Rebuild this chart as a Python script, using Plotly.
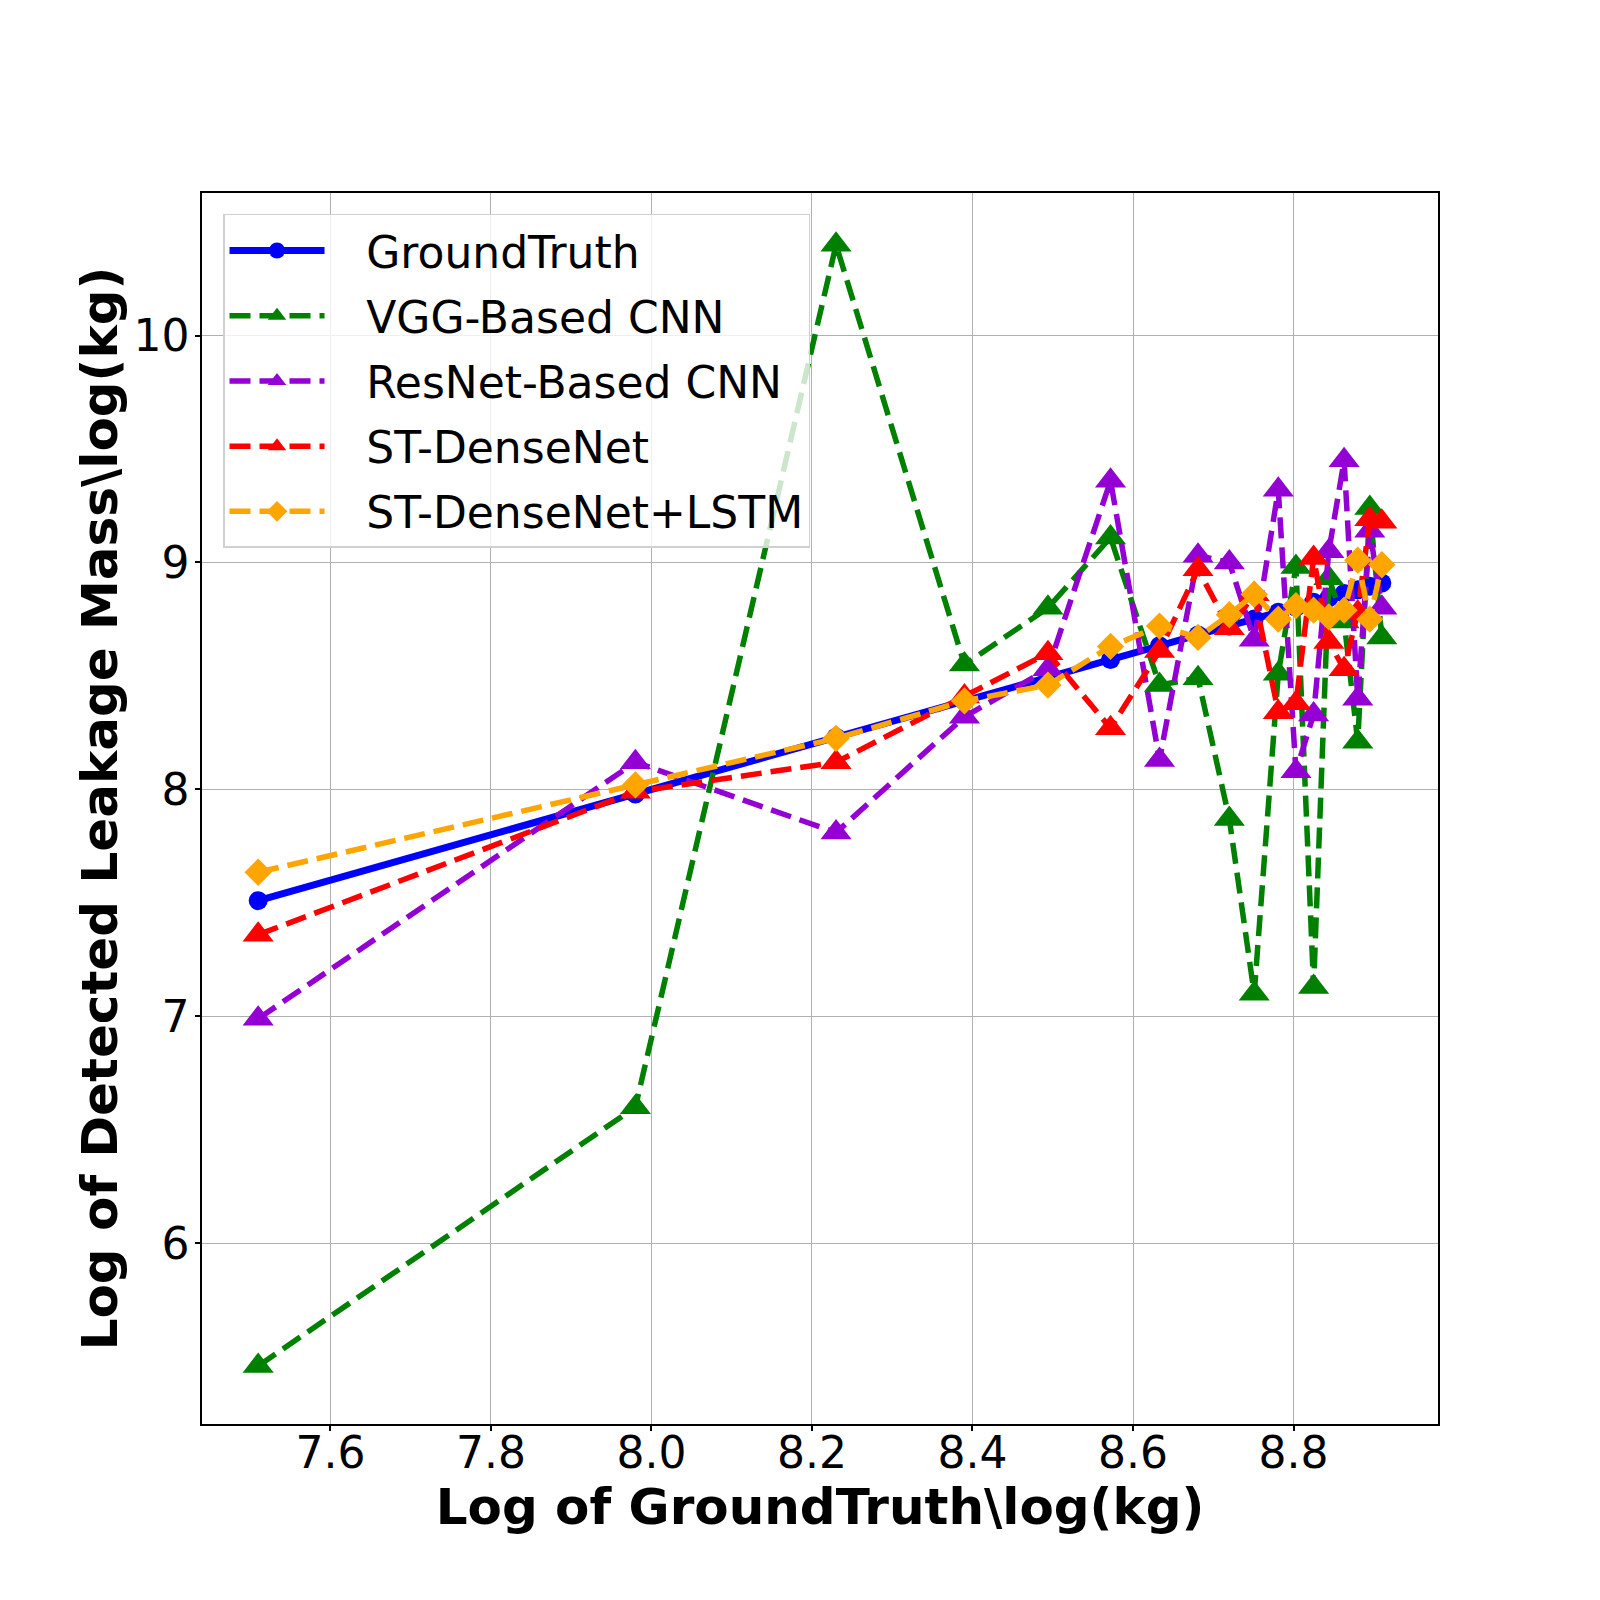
import plotly.graph_objects as go

ground_truth = [7.51, 7.98, 8.23, 8.39, 8.494, 8.572, 8.633, 8.681, 8.72, 8.751,
                8.781, 8.803, 8.825, 8.844, 8.863, 8.88, 8.895, 8.91]
gt_line = [7.51, 7.98, 8.23, 8.39, 8.494, 8.572, 8.633, 8.681, 8.72, 8.751,
           8.781, 8.803, 8.825, 8.844, 8.863, 8.88, 8.895, 8.91]
vgg_cnn = [5.46, 6.60, 10.40, 8.55, 8.80, 9.11, 8.46, 8.49, 7.87, 7.10,
           8.51, 8.98, 7.13, 8.93, 8.74, 8.21, 9.24, 8.67]
resnet_cnn = [6.99, 8.12, 7.81, 8.32, 8.53, 9.36, 8.13, 9.03, 9.00, 8.66,
              9.32, 8.08, 8.33, 9.05, 9.45, 8.40, 9.14, 8.80]
st_densenet = [7.36, 7.99, 8.12, 8.41, 8.60, 8.27, 8.61, 8.97, 8.71, 8.86,
               8.34, 8.38, 9.02, 8.65, 8.53, 8.78, 9.19, 9.18]
st_densenet_lstm = [7.635, 8.02, 8.225, 8.39, 8.46, 8.63, 8.72, 8.67, 8.77, 8.86,
                    8.75, 8.81, 8.79, 8.76, 8.79, 9.01, 8.75, 8.99]

FONT = "DejaVu Sans"
DASH = "21px,9px"
PAD = "\u00a0\u00a0\u2009"  # matplotlib leaves a wider gap between handle and label

series = [
    ("GroundTruth", gt_line, "blue", "circle", 19, "solid", 7),
    ("VGG-Based CNN", vgg_cnn, "green", "triangle-up", 27, DASH, 5.5),
    ("ResNet-Based CNN", resnet_cnn, "darkviolet", "triangle-up", 27, DASH, 5.5),
    ("ST-DenseNet", st_densenet, "red", "triangle-up", 27, DASH, 5.5),
    ("ST-DenseNet+LSTM", st_densenet_lstm, "orange", "diamond", 21, DASH, 5.5),
]

fig = go.Figure()
for name, ys, color, symbol, msize, dash, lw in series:
    fig.add_trace(
        go.Scatter(
            x=ground_truth,
            y=ys,
            name=PAD + name,
            legendgroup=name,
            mode="lines+markers",
            line={"color": color, "width": lw, "dash": dash},
            marker={"color": color, "symbol": symbol, "size": msize},
        )
    )

axis_common = {
    "showline": True,
    "linecolor": "black",
    "linewidth": 1.5,
    "mirror": True,
    "ticks": "outside",
    "ticklen": 5,
    "tickwidth": 1.5,
    "tickcolor": "black",
    "showgrid": True,
    "gridcolor": "#b0b0b0",
    "gridwidth": 1,
    "zeroline": False,
    "tickfont": {"family": FONT, "size": 44, "color": "black"},
}

# the page body has an 8px margin, so the figure margins are shifted by it
fig.update_layout(
    width=1600,
    height=1600,
    margin={"l": 194, "r": 170, "t": 185, "b": 184},
    paper_bgcolor="white",
    plot_bgcolor="white",
    font={"family": FONT, "color": "black"},
    xaxis={
        **axis_common,
        "range": [7.44, 8.98],
        "dtick": 0.2,
        "tick0": 7.6,
        "tickformat": ".1f",
        "ticklabelstandoff": -16,
        "title": {
            "text": "<b>Log of GroundTruth\\log(kg)</b>",
            "font": {"family": FONT, "size": 50, "color": "black"},
            "standoff": 0,
        },
    },
    yaxis={
        **axis_common,
        "range": [5.204, 10.628],
        "dtick": 1,
        "tick0": 6,
        "ticklabelstandoff": -3,
        "title": {
            "text": "<b>Log of Detected Leakage Mass\\log(kg)</b>",
            "font": {"family": FONT, "size": 50, "color": "black"},
            "standoff": 0,
        },
    },
    legend={
        "x": 0.017,
        "y": 0.983,
        "xanchor": "left",
        "yanchor": "top",
        "bgcolor": "rgba(255,255,255,0.8)",
        "bordercolor": "#d0d0d0",
        "borderwidth": 1.5,
        "font": {"family": FONT, "size": 44, "color": "black"},
        "tracegroupgap": 5,
        "itemwidth": 95,
        "traceorder": "grouped",
    },
    showlegend=True,
)

fig.write_html("out.html")
